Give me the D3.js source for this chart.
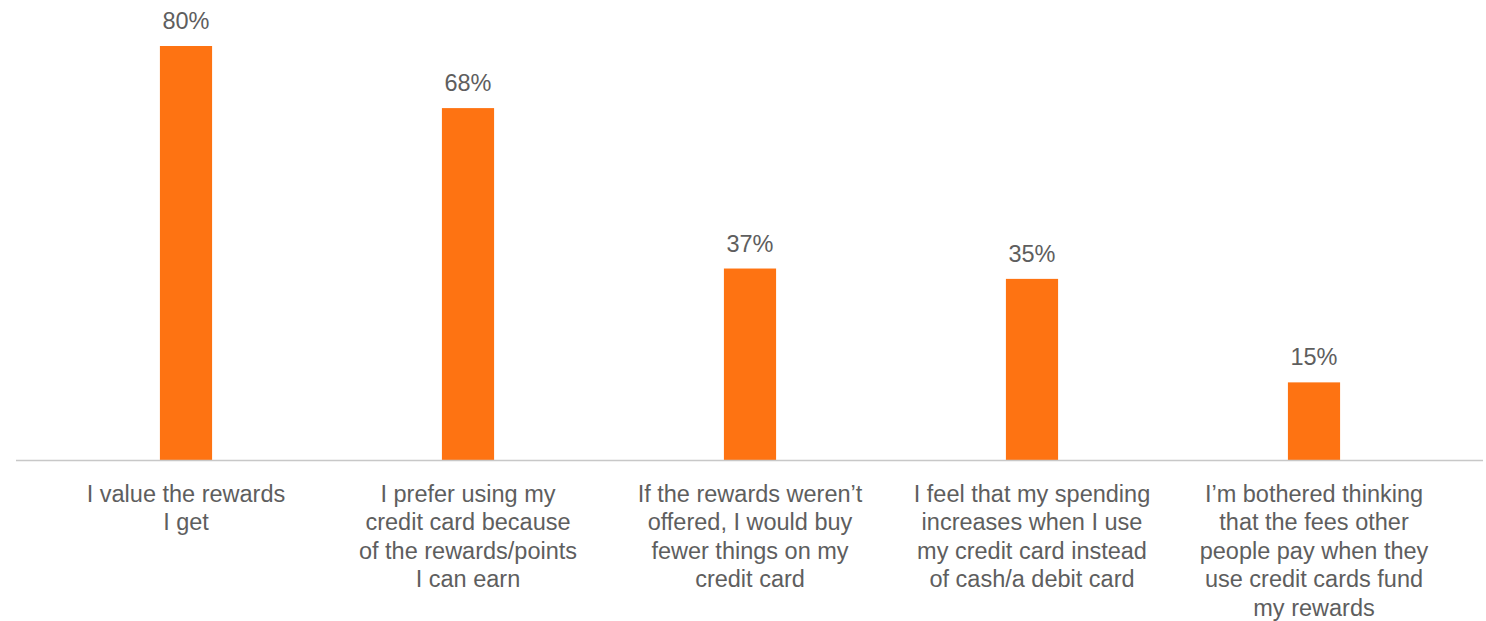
<!DOCTYPE html>
<html>
<head>
<meta charset="utf-8">
<script src="https://cdn.jsdelivr.net/npm/d3@7"></script>
<style>
  html, body { margin: 0; padding: 0; background: #ffffff; }
  svg { display: block; font-family: Arial, "Liberation Sans", sans-serif; }
</style>
</head>
<body>
<svg id="chart" width="1486" height="621"></svg>
<script>
// Survey statements (each array entry is one wrapped line)
const categories = [
  ["I value the rewards", "I get"],
  ["I prefer using my", "credit card because", "of the rewards/points", "I can earn"],
  ["If the rewards weren\u2019t", "offered, I would buy", "fewer things on my", "credit card"],
  ["I feel that my spending", "increases when I use", "my credit card instead", "of cash/a debit card"],
  ["I\u2019m bothered thinking", "that the fees other", "people pay when they", "use credit cards fund", "my rewards"]
];
const values = [80, 68, 37, 35, 15];

const svg = d3.select("#chart");
const baseline = 460;

const x = d3.scaleBand()
  .domain(d3.range(categories.length))
  .range([45, 1455])
  .paddingInner(0.815)
  .paddingOuter(0.4075);

const y = d3.scaleLinear()
  .domain([0, 80])
  .range([baseline, 46]);

// bars
svg.append("g").selectAll("rect")
  .data(values)
  .join("rect")
  .attr("x", (d, i) => x(i))
  .attr("y", d => y(d))
  .attr("width", x.bandwidth())
  .attr("height", d => baseline - y(d))
  .attr("fill", "#fe7312");

// baseline axis
svg.append("line")
  .attr("x1", 16).attr("x2", 1483)
  .attr("y1", baseline + 0.5).attr("y2", baseline + 0.5)
  .attr("stroke", "#c8c8c8")
  .attr("stroke-width", 1.5);

// value labels
svg.append("g").selectAll("text")
  .data(values)
  .join("text")
  .attr("x", (d, i) => x(i) + x.bandwidth() / 2)
  .attr("y", d => y(d) - 17)
  .attr("text-anchor", "middle")
  .attr("font-size", 23.5)
  .attr("fill", "#5e5e5e")
  .text(d => d + "%");

// category labels
const lab = svg.append("g").selectAll("text")
  .data(categories)
  .join("text")
  .attr("text-anchor", "middle")
  .attr("font-size", 23.5)
  .attr("fill", "#5e5e5e");

lab.each(function(lines, i) {
  const cx = x(i) + x.bandwidth() / 2;
  d3.select(this).selectAll("tspan")
    .data(lines)
    .join("tspan")
    .attr("x", cx)
    .attr("y", (d, j) => 502 + j * 28.4)
    .text(d => d);
});
</script>
</body>
</html>
